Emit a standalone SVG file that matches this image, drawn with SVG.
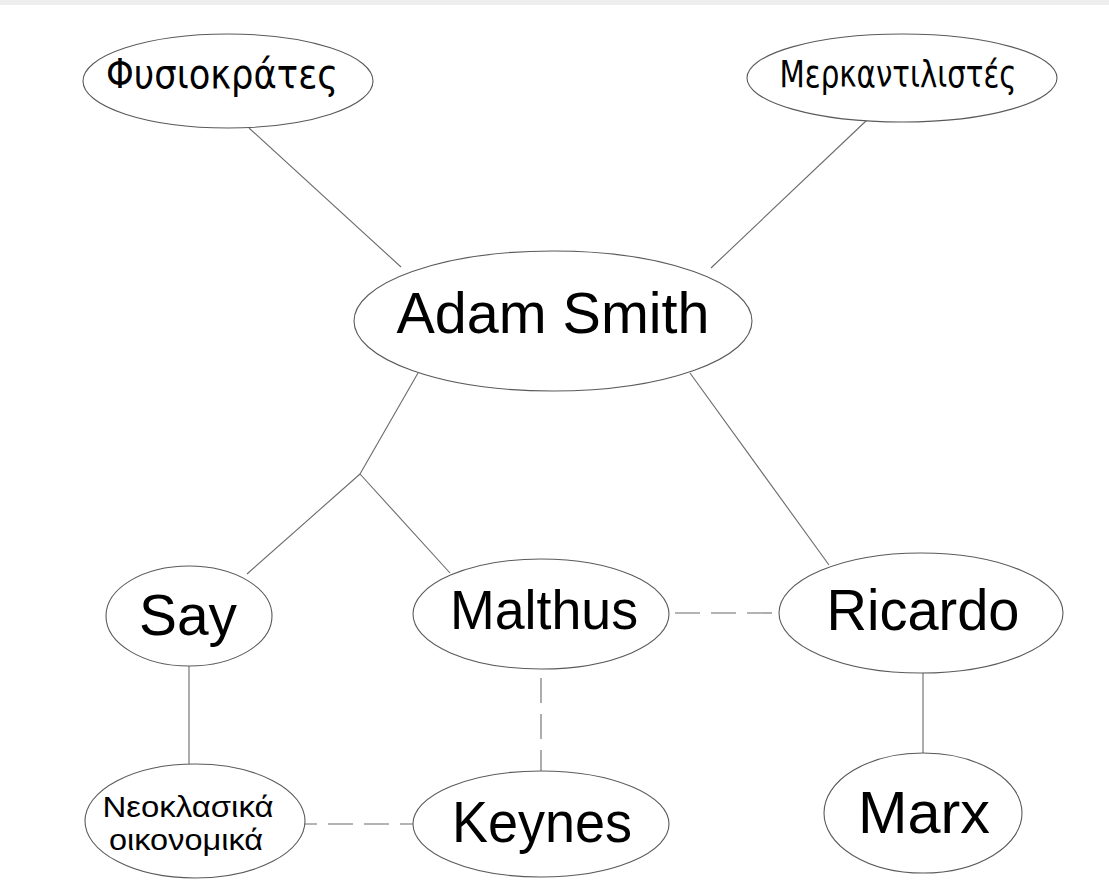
<svg xmlns="http://www.w3.org/2000/svg" width="1109" height="896" viewBox="0 0 1109 896">
<style>
.n{fill:#fff;stroke:#5a5a5a;stroke-width:1.1}
.c{stroke:#6a6a6a;stroke-width:1.1;fill:none}
.d{stroke-dasharray:25 11}
text{font-family:"Liberation Sans",Arial,sans-serif;fill:#000;text-anchor:middle}
.g{font-family:"DejaVu Sans","Liberation Sans",sans-serif}
</style>
<rect width="1109" height="896" fill="#fff"/>
<rect width="1109" height="5" fill="#eee"/>
<g id="connectors">
<line class="c" x1="249" y1="128" x2="401" y2="267"/>
<line class="c" x1="867" y1="120" x2="711" y2="268"/>
<line class="c" x1="418" y1="373" x2="360" y2="474"/>
<line class="c" x1="360" y1="474" x2="247" y2="574"/>
<line class="c" x1="360" y1="474" x2="450" y2="573"/>
<line class="c" x1="690" y1="373" x2="829" y2="565"/>
<line class="c d" x1="669" y1="613" x2="779" y2="613" stroke-dashoffset="-6"/>
<line class="c" x1="189" y1="666" x2="189" y2="764"/>
<line class="c d" x1="541" y1="668" x2="541" y2="771" stroke-dashoffset="-10"/>
<line class="c d" x1="305" y1="824" x2="413" y2="824" stroke-dashoffset="13"/>
<line class="c" x1="923" y1="673" x2="923" y2="753"/>
</g>
<g id="fysiokrates"><ellipse class="n" cx="228" cy="81" rx="145" ry="47"/><text class="g" x="222" y="88" font-size="40" textLength="232" lengthAdjust="spacingAndGlyphs">Φυσιοκράτες</text></g>
<g id="merkantilistes"><ellipse class="n" cx="902" cy="78" rx="155" ry="44"/><text class="g" x="898" y="87" font-size="38" textLength="237" lengthAdjust="spacingAndGlyphs">Μερκαντιλιστές</text></g>
<g id="adam-smith"><ellipse class="n" cx="553" cy="321" rx="199" ry="70"/><text x="553" y="333" font-size="58" textLength="313" lengthAdjust="spacingAndGlyphs">Adam Smith</text></g>
<g id="say"><ellipse class="n" cx="189" cy="616" rx="83" ry="50"/><text x="188" y="635" font-size="58" textLength="98" lengthAdjust="spacingAndGlyphs">Say</text></g>
<g id="malthus"><ellipse class="n" cx="541" cy="614" rx="128" ry="55"/><text x="544" y="629" font-size="55" textLength="188" lengthAdjust="spacingAndGlyphs">Malthus</text></g>
<g id="ricardo"><ellipse class="n" cx="921" cy="613" rx="142" ry="60"/><text x="923" y="630" font-size="57" textLength="193" lengthAdjust="spacingAndGlyphs">Ricardo</text></g>
<g id="neoklasika"><ellipse class="n" cx="195" cy="821" rx="110" ry="57"/><text x="188" y="817" font-size="29" textLength="171" lengthAdjust="spacingAndGlyphs">Νεοκλασικά</text><text x="186" y="850" font-size="29" textLength="154" lengthAdjust="spacingAndGlyphs">οικονομικά</text></g>
<g id="keynes"><ellipse class="n" cx="541" cy="824" rx="128" ry="53"/><text x="542" y="842" font-size="58" textLength="180" lengthAdjust="spacingAndGlyphs">Keynes</text></g>
<g id="marx"><ellipse class="n" cx="923" cy="813" rx="99" ry="60"/><text x="924" y="833" font-size="60" textLength="132" lengthAdjust="spacingAndGlyphs">Marx</text></g>
</svg>
